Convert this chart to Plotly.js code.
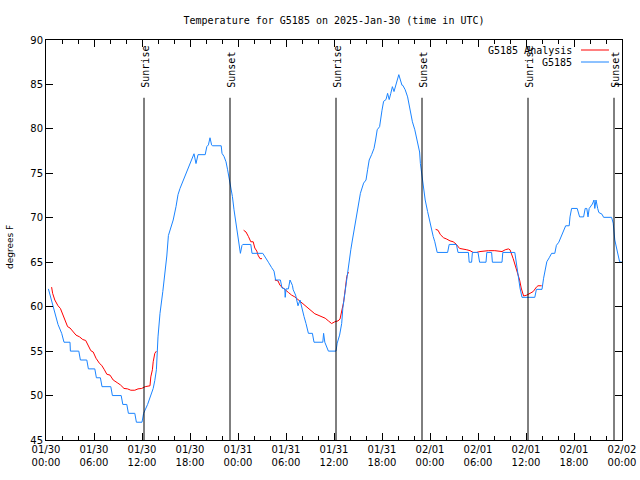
<!DOCTYPE html>
<html>
<head>
<meta charset="utf-8">
<script src="https://cdn.plot.ly/plotly-3.0.1.min.js"></script>
<style>html,body{margin:0;padding:0;background:#fff}#chart{width:640px;height:480px}</style>
</head>
<body>
<div id="chart"></div>
<script>
// ---- Data (hours since 2025-01-30 00:00 UTC, degrees F) ----
const obsHours = [0.3,0.5,0.83,1.1,1.5,1.96,2.25,3.0,3.05,4.1,4.3,5.1,5.3,6.1,6.3,6.8,7.0,8.1,8.3,9.4,9.6,10.1,10.3,11.1,11.3,12.0,12.2,12.7,13.1,13.4,13.6,13.8,14.0,14.25,14.6,14.9,15.1,15.3,15.6,15.9,16.25,16.5,16.75,17.1,17.5,17.9,18.3,18.5,18.75,19.0,19.9,20.1,20.3,20.5,20.7,20.8,21.9,22.0,22.25,22.5,22.7,22.9,23.1,23.3,23.5,23.75,23.96,24.2,24.3,24.5,24.6,25.6,25.75,27.1,27.4,27.8,28.2,28.5,28.7,29.3,29.5,29.85,29.9,30.0,30.3,30.5,30.8,30.9,31.2,31.3,31.5,31.75,31.9,32.1,32.25,32.5,32.8,33.3,33.5,34.6,34.7,34.85,35.1,35.3,36.25,36.4,36.7,36.96,37.1,37.4,37.7,37.9,38.1,38.3,38.5,38.75,39.0,39.2,39.3,39.7,40.0,40.2,40.4,40.7,41.0,41.2,41.4,41.7,41.8,42.0,42.2,42.5,42.7,42.9,43.1,43.3,43.5,43.7,43.9,44.1,44.3,44.5,44.6,44.9,45.2,45.4,45.6,45.8,46.1,46.4,46.7,46.8,47.0,47.2,47.4,47.7,48.0,48.2,48.4,48.6,48.9,50.2,50.4,51.3,51.5,52.8,52.9,53.2,53.3,54.0,54.2,55.0,55.1,55.7,55.8,57.0,57.1,58.6,58.75,58.9,59.1,59.25,59.5,61.1,61.3,62.0,62.2,62.4,62.6,62.9,63.2,63.6,63.8,64.1,64.5,64.8,64.96,65.4,65.5,65.7,66.4,66.7,67.2,67.4,67.6,67.75,67.9,68.3,68.5,68.6,68.75,68.96,69.1,69.5,69.7,70.7,70.9,71.1,71.4,71.7,72.0];
const obsTemps = [62.0,61.3,60.1,59.1,58.0,57.0,56.0,56.0,55.0,55.0,54.0,54.0,53.0,53.0,52.0,52.0,51.0,51.0,50.0,50.0,49.0,49.0,48.0,48.0,47.0,47.0,48.0,49.0,50.0,50.8,51.7,52.9,56.6,59.25,61.7,64.0,65.7,68.0,69.0,69.75,71.25,72.6,73.3,74.1,75.0,75.9,76.9,77.2,76.1,77.1,77.1,78.0,78.2,79.0,78.2,78.1,78.1,77.25,76.9,76.3,75.4,74.4,73.5,72.4,70.9,69.4,67.9,66.9,66.0,66.9,67.0,67.0,66.0,66.0,65.5,65.0,64.4,64.0,63.0,63.0,62.1,62.0,61.05,62.0,62.0,63.0,62.4,61.9,61.3,60.75,60.1,60.75,60.1,59.4,58.9,58.1,57.0,57.0,56.0,56.0,57.0,56.0,55.5,55.0,55.0,55.9,56.8,58.1,59.8,61.9,63.75,65.25,66.4,67.5,68.6,69.75,70.9,72.0,72.75,73.9,74.25,75.4,76.5,77.1,77.8,78.75,79.9,80.25,81.0,82.1,83.1,83.3,84.0,83.3,84.0,84.75,84.2,84.9,85.3,86.1,85.5,84.9,84.9,84.4,83.6,82.7,81.75,80.8,79.9,78.75,77.4,76.1,74.6,73.5,72.0,70.7,69.4,68.4,67.9,67.3,66.1,66.1,67.0,67.0,66.1,66.1,65.0,65.0,66.1,66.1,65.0,65.0,66.1,66.1,65.0,65.0,66.1,66.1,65.1,64.1,63.0,62.1,61.05,61.05,61.95,61.95,63.2,64.3,65.05,65.5,66.0,66.0,66.9,67.25,68.1,68.6,69.1,69.1,70.1,71.05,71.05,70.1,70.1,71.05,71.05,70.1,71.05,71.55,72.0,71.05,72.0,71.05,70.6,70.4,70.05,70.05,69.4,67.5,66.2,65.05,65.0];

const anaHours = [0.7,0.83,1.1,1.5,1.8,2.1,2.4,2.7,3.0,3.4,3.75,4.2,4.6,4.96,5.3,5.6,5.9,6.25,6.7,6.96,7.3,7.6,8.0,8.4,8.9,9.3,9.75,10.2,10.6,11.1,11.5,11.96,12.4,12.8,13.0,13.1,13.3,13.4,13.6,13.8,
  19.0,
  24.7,25.0,25.3,25.6,25.9,26.1,26.35,26.5,26.75,27.0,
  27.8,
  28.6,29.0,29.25,29.6,29.9,30.3,30.7,31.1,31.5,31.96,32.4,32.8,33.2,33.6,34.0,34.5,34.9,35.3,35.7,36.1,36.5,36.75,37.0,37.2,37.4,37.6,37.8,
  43.0,
  48.7,49.0,49.3,49.7,50.1,50.5,50.9,51.25,51.7,52.2,52.6,53.0,53.4,53.8,54.25,55.3,56.1,57.0,57.4,57.8,58.0,58.4,58.8,59.2,59.4,59.7,60.1,60.5,60.9,61.3,61.5,61.96];
const anaTemps = [62.2,61.5,60.75,60.1,59.8,59.1,58.3,57.75,57.6,57.2,56.8,56.6,56.3,56.2,55.5,55.05,54.9,54.2,53.6,53.4,52.9,52.4,52.3,51.75,51.45,51.2,50.8,50.75,50.6,50.6,50.75,50.8,51.0,51.1,51.1,52.1,52.9,53.8,54.75,55.0,
  null,
  68.6,68.4,67.9,67.3,67.3,66.6,66.25,65.8,65.4,65.4,
  null,
  63.0,62.9,62.4,62.1,61.9,61.6,61.3,61.1,60.8,60.45,60.1,59.8,59.4,59.2,59.05,58.9,58.7,58.4,58.1,58.3,58.4,58.6,59.6,60.5,61.9,63.4,63.9,
  null,
  68.7,68.6,68.1,67.75,67.6,67.4,67.3,67.05,66.55,66.5,66.4,66.3,66.1,66.1,66.2,66.3,66.3,66.2,66.4,66.5,66.4,65.4,64.3,63.0,62.1,61.2,61.3,61.5,61.7,62.2,62.35,62.35];

const sunHours  = [12.25, 23.0, 36.25, 47.0, 60.25, 71.0];
const sunLabels = ["Sunrise","Sunset","Sunrise","Sunset","Sunrise","Sunset"];

const seriesNames = ["G5185 Analysis","G5185"];
const seriesColors = ["#ff0000","#1a84ff"];

// ---- helpers ----
const BASE = Date.UTC(2025,0,30,0,0,0);
function toDate(h){
  return new Date(BASE + Math.round(h*3600000)).toISOString().replace('T',' ').slice(0,19);
}

const mono = "DejaVu Sans Mono, monospace";
const sans = "DejaVu Sans, sans-serif";

const traces = [
  {x: anaHours.map(toDate), y: anaTemps, mode:'lines', name: seriesNames[0],
   line:{color:seriesColors[0], width:1}, connectgaps:false, hoverinfo:'skip'},
  {x: obsHours.map(toDate), y: obsTemps, mode:'lines', name: seriesNames[1],
   line:{color:seriesColors[1], width:1}, hoverinfo:'skip'}
];

// sunrise / sunset vertical lines as traces
sunHours.forEach(h => {
  traces.push({x:[toDate(h),toDate(h)], y:[83.5,45], mode:'lines',
    line:{color:'#000', width:1}, showlegend:false, hoverinfo:'skip'});
});

const annotations = sunHours.map((h,i) => ({
  x: toDate(h), y: 84.35, xref:'x', yref:'y', text: sunLabels[i],
  textangle:-90, showarrow:false, xanchor:'center', yanchor:'bottom', xshift:1.5,
  font:{family:mono, size:10, color:'#000'}
}));

// legend (text right, sample line on right)
const legY = [0.975, 0.945];
const shapes = [];
seriesNames.forEach((n,i) => {
  annotations.push({x:0.9167, y:legY[i], xref:'paper', yref:'paper', text:n,
    showarrow:false, xanchor:'right', yanchor:'middle',
    font:{family:mono, size:10, color:'#000'}});
  shapes.push({type:'line', xref:'paper', yref:'paper', x0:0.9288, x1:0.9774,
    y0:legY[i], y1:legY[i], line:{color:seriesColors[i], width:1}});
});

// y axis title
annotations.push({x:-0.0625, y:0.4825, xref:'paper', yref:'paper', text:'degrees F',
  textangle:-90, showarrow:false, xanchor:'center', yanchor:'middle',
  font:{family:sans, size:9, color:'#000'}});

const layout = {
  width:640, height:480,
  margin:{l:46, r:18, t:40, b:40, pad:0},
  paper_bgcolor:'#fff', plot_bgcolor:'#fff',
  showlegend:false,
  title:{text:'Temperature for G5185 on 2025-Jan-30 (time in UTC)', x:0.5, xref:'paper',
    y:0.958, yref:'container', yanchor:'middle', font:{family:mono, size:10, color:'#000'}},
  xaxis:{type:'date', range:[toDate(0), toDate(72)], dtick:21600000, tick0:toDate(0),
    tickformat:'%m/%d<br>%H:%M', ticks:'inside', ticklen:7, tickcolor:'#000', tickwidth:1,
    showline:true, linecolor:'#000', linewidth:1, mirror:'allticks', showgrid:false, zeroline:false,
    tickfont:{family:sans, size:10, color:'#000'},
    minor:{dtick:7200000, ticks:'inside', ticklen:4, tickcolor:'#000', tickwidth:1, showgrid:false}},
  yaxis:{range:[45,90], dtick:5, tick0:45, ticks:'inside', ticklen:7, tickcolor:'#000', tickwidth:1,
    showline:true, linecolor:'#000', linewidth:1, mirror:'allticks', showgrid:false, zeroline:false,
    tickfont:{family:sans, size:10, color:'#000'}},
  annotations: annotations,
  shapes: shapes
};

Plotly.newPlot('chart', traces, layout, {staticPlot:true, displayModeBar:false});
</script>
</body>
</html>
